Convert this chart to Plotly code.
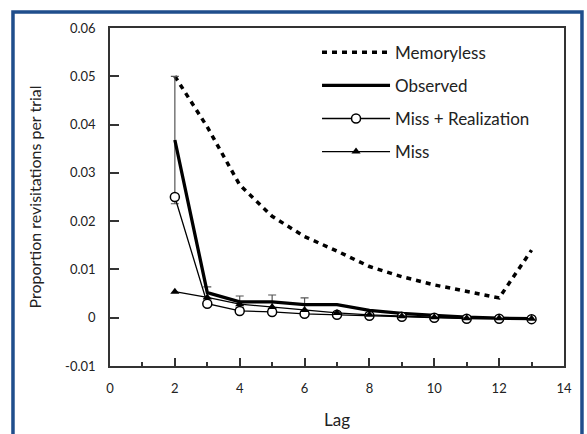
import plotly.graph_objects as go

lag = [2, 3, 4, 5, 6, 7, 8, 9, 10, 11, 12, 13]
memoryless = [0.050, 0.0395, 0.0275, 0.021, 0.0168, 0.0138, 0.0106, 0.0085, 0.0068, 0.0054, 0.0041, 0.0140]
observed = [0.0368, 0.0052, 0.0033, 0.0033, 0.0027, 0.0027, 0.0015, 0.0009, 0.0005, 0.0001, -0.0001, -0.0002]
observed_err = [0.0132, 0.0012, 0.0012, 0.0014, 0.0014, None, None, None, None, None, None, None]
miss_real = [0.0250, 0.0029, 0.0014, 0.0012, 0.0008, 0.0006, 0.0004, 0.0002, 0.0000, -0.0002, -0.0002, -0.0003]
miss = [0.0054, 0.0042, 0.0028, 0.0022, 0.0016, 0.0010, 0.0006, 0.0003, 0.0001, -0.0001, -0.0001, -0.0002]

x_ticks = [0, 2, 4, 6, 8, 10, 12, 14]
x_labels = ["0", "2", "4", "6", "8", "10", "12", "14"]
y_ticks = [-0.01, 0, 0.01, 0.02, 0.03, 0.04, 0.05, 0.06]
y_labels = ["-0.01", "0", "0.01", "0.02", "0.03", "0.04", "0.05", "0.06"]

FONT = "Lato"

fig = go.Figure()
fig.add_trace(go.Scatter(
    x=lag, y=memoryless, name="Memoryless", mode="lines",
    line=dict(color="black", width=3.5, dash="5px,5px"),
    legendgroup="a"))
fig.add_trace(go.Scatter(
    x=lag, y=observed, name="Observed", mode="lines",
    line=dict(color="black", width=3.3),
    error_y=dict(type="data", array=observed_err, symmetric=True,
                 color="#555555", thickness=1.2, width=4),
    legendgroup="b"))
fig.add_trace(go.Scatter(
    x=lag, y=miss_real, name="Miss + Realization", mode="lines+markers",
    line=dict(color="black", width=1.3),
    marker=dict(symbol="circle", size=9, color="white",
                line=dict(color="black", width=1.5)),
    legendgroup="c"))
fig.add_trace(go.Scatter(
    x=lag, y=miss, name="Miss", mode="lines+markers",
    line=dict(color="black", width=1.3),
    marker=dict(symbol="triangle-up", size=8, color="black"),
    legendgroup="d"))

fig.update_layout(
    width=587, height=434,
    margin=dict(l=110, r=23, t=28, b=68),
    paper_bgcolor="white", plot_bgcolor="white",
    font=dict(family=FONT, color="#222222"),
    showlegend=True,
    legend=dict(
        x=0.456, y=0.98, xanchor="left", yanchor="top",
        bgcolor="rgba(0,0,0,0)", font=dict(size=17, family=FONT, color="#222222"),
        traceorder="grouped", tracegroupgap=8, itemwidth=68,
    ),
    xaxis=dict(
        range=[0, 14], tickvals=x_ticks, ticktext=x_labels,
        ticks="inside", ticklen=8, tickwidth=1.5, tickcolor="#333",
        minor=dict(dtick=1, ticks="inside", ticklen=4, tickwidth=1.5, tickcolor="#333"),
        showline=True, linecolor="#333", linewidth=1.5, mirror=True,
        showgrid=False, zeroline=False, automargin=False,
        tickfont=dict(size=13, family=FONT), ticklabelstandoff=10,
        title=dict(text="Lag", font=dict(size=17, family=FONT), standoff=19),
    ),
    yaxis=dict(
        range=[-0.01, 0.06], tickvals=y_ticks, ticktext=y_labels,
        ticks="inside", ticklen=9, tickwidth=1.5, tickcolor="#333",
        showline=True, linecolor="#333", linewidth=1.5, mirror=True,
        showgrid=False, zeroline=False, automargin=False,
        tickfont=dict(size=13, family=FONT), ticklabelstandoff=10,
        title=dict(text="Proportion revisitations per trial",
                   font=dict(size=16, family=FONT), standoff=20),
    ),
    shapes=[dict(type="rect", xref="paper", yref="paper",
                 x0=-0.2137, x1=1.0396, y0=-0.3, y1=1.0474,
                 line=dict(color="#1f4e8c", width=3.5), layer="below")],
)

fig.write_html("out.html")
